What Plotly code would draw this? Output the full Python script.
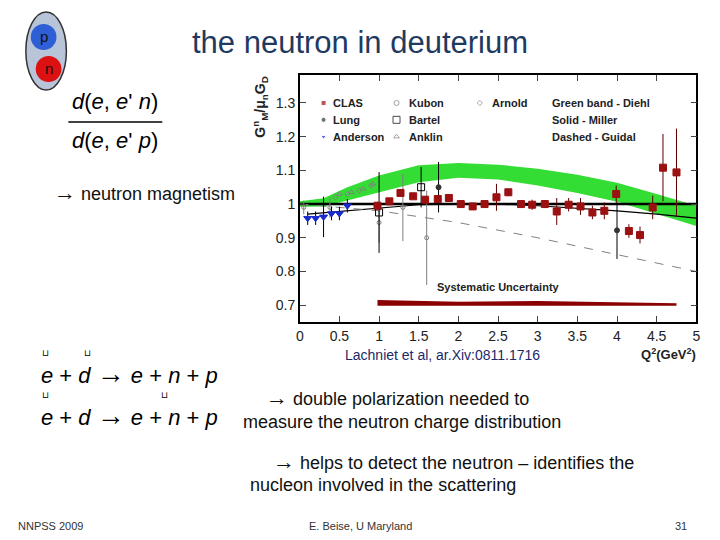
import plotly.graph_objects as go
import numpy as np

clas_q = [0.98,1.13,1.27,1.43,1.58,1.74,1.88,2.03,2.18,2.33,2.48,2.63,2.79,2.93,3.09,3.24,3.39,3.54,3.69,3.84,3.99,4.15,4.29,4.45,4.58,4.75]
clas_g = [0.995,1.008,1.033,1.023,1.013,1.015,1.018,1.0,0.993,1.0,1.02,1.035,1.0,0.998,1.0,0.978,0.998,0.993,0.975,0.98,1.03,0.92,0.908,0.99,1.108,1.094]
clas_e = [0.012,0.008,0.01,0.008,0.01,0.012,0.008,0.006,0.008,0.008,0.04,0.01,0.01,0.015,0.012,0.04,0.02,0.025,0.02,0.025,0.025,0.02,0.025,0.035,0.1,0.13]
and_q = [0.1,0.2,0.3,0.4,0.5,0.6]
and_g = [0.958,0.958,0.962,0.972,0.972,0.995]
and_e = [0.02,0.02,0.06,0.02,0.02,0.02]
lung_q = [1.75,4.0]
lung_g = [1.05,0.922]
lung_e = [0.075,0.085]
kubon_q = [0.05,0.38,1.0,1.3,1.6]
kubon_g = [0.99,0.99,0.945,0.99,0.9]
kubon_e = [0.02,0.03,0.06,0.1,0.14]
bartel_q = [1.0,1.53]
bartel_g = [0.975,1.05]
bartel_e = [0.12,0.06]
anklin_q = [0.5,0.65,0.8,0.92]
anklin_g = [1.03,1.035,1.045,1.06]
arnold_q = [0.45,0.6,0.75,0.9]
arnold_g = [1.02,1.03,1.04,1.055]

band_q = [0,0.3,0.6,1.0,1.5,2.0,2.5,3.0,3.5,4.0,4.5,5.0]
band_c = [1.0,1.005,1.03,1.06,1.09,1.1,1.095,1.08,1.06,1.035,1.0,0.965]
band_w = [0.008,0.012,0.02,0.025,0.025,0.022,0.022,0.025,0.027,0.028,0.03,0.03]
miller_q = [0.1,0.5,1.0,1.5,2.0,2.5,3.0,3.5,4.0,4.5,5.0]
miller_g = [0.97,0.978,0.99,0.998,1.0,1.0,0.995,0.988,0.98,0.97,0.958]
guidal_q = [0,1,2,3,4,5]
guidal_g = [1.0,0.98,0.945,0.9,0.85,0.8]
sys_q = [0.98,1.5,2.0,3.0,4.0,4.75]
sys_top = [0.715,0.713,0.71,0.712,0.708,0.706]

OFF = 8
def X(px): return (px - OFF) / 720
def Y(py): return 1 - (py - OFF) / 540

fig = go.Figure()
bq = np.array(band_q); bc = np.array(band_c); bw = np.array(band_w)
fig.add_trace(go.Scatter(x=list(bq)+list(bq[::-1]), y=list(bc+bw)+list((bc-bw)[::-1]),
                         fill='toself', fillcolor='#33dd33', line=dict(width=0), mode='lines'))
fig.add_trace(go.Scatter(x=sys_q+sys_q[::-1], y=sys_top+[0.698]*len(sys_q), fill='toself',
                         fillcolor='#8b0000', line=dict(width=0), mode='lines'))
fig.add_trace(go.Scatter(x=[0,5], y=[1,1], mode='lines', line=dict(color='black', width=2.5)))
fig.add_trace(go.Scatter(x=miller_q, y=miller_g, mode='lines', line=dict(color='black', width=1.2)))
fig.add_trace(go.Scatter(x=guidal_q, y=guidal_g, mode='lines', line=dict(color='gray', width=1, dash='dash')))
def pts(q,g,e,sym,col,size,lc='black'):
    fig.add_trace(go.Scatter(x=q,y=g,mode='markers',
        error_y=dict(type='data',array=e,color=lc,thickness=1,width=0) if e else None,
        marker=dict(symbol=sym,color=col,size=size,line=dict(color=lc if 'open' in sym else col,width=1))))
pts(kubon_q,kubon_g,kubon_e,'circle-open','gray',4,'gray')
pts(bartel_q,bartel_g,bartel_e,'square-open','black',7)
pts(anklin_q,anklin_g,None,'triangle-up-open','gray',5,'gray')
pts(arnold_q,arnold_g,None,'diamond-open','gray',4,'gray')
pts(lung_q,lung_g,lung_e,'circle','#333',5)
pts(and_q,and_g,and_e,'triangle-down','#1a2ad0',7)
pts(clas_q,clas_g,clas_e,'square','#9b1010',7,'#5a0000')
fig.add_trace(go.Scatter(x=[0.3,0.3,0.3,1.22,1.22,1.22,2.27],y=[1.3,1.25,1.2,1.3,1.25,1.2,1.3],mode='markers',
    marker=dict(symbol=['square','circle','triangle-down','circle-open','square-open','triangle-up-open','diamond-open'],
                color=['#9b1010','#333','#1a2ad0','gray','black','gray','gray'],size=[5,5,5,5,7,5,4])))

F = "Arial, Liberation Sans"
ax = dict(ticks='inside', ticklen=6, mirror='ticks', showline=True, linecolor='black', linewidth=1.5,
          showgrid=False, zeroline=False, tickfont=dict(size=14, color='#222'))
fig.update_layout(width=720, height=540, margin=dict(l=0,r=0,t=0,b=0), showlegend=False,
    paper_bgcolor='white', plot_bgcolor='white', font=dict(family=F),
    xaxis=dict(domain=[X(299),X(700)], range=[0,5], tickvals=[0,0.5,1,1.5,2,2.5,3,3.5,4,4.5,5],
               ticktext=['0','0.5','1','1.5','2','2.5','3','3.5','4','4.5','5'], **ax),
    yaxis=dict(domain=[Y(322),Y(75)], range=[0.65,1.383], tickvals=[0.7,0.8,0.9,1.0,1.1,1.2,1.3],
               ticktext=['0.7','0.8','0.9','1','1.1','1.2','1.3'], **ax))

def ann(px,py,t,s,col='black',xa='left',ya='middle',ang=0):
    fig.add_annotation(x=X(px),y=Y(py),xref='paper',yref='paper',text=t,showarrow=False,align='left',
        font=dict(size=s,color=col,family=F),xanchor=xa,yanchor=ya,textangle=ang)
for (xq,yv,t) in [(0.4,1.3,'CLAS'),(0.4,1.25,'Lung'),(0.4,1.2,'Anderson'),(1.35,1.3,'Kubon'),(1.35,1.25,'Bartel'),
                  (1.35,1.2,'Anklin'),(2.4,1.3,'Arnold'),(3.15,1.3,'Green band - Diehl'),(3.15,1.25,'Solid - Miller'),
                  (3.15,1.2,'Dashed - Guidal')]:
    fig.add_annotation(x=xq,y=yv,xref='x',yref='y',text='<b>'+t+'</b>',showarrow=False,xanchor='left',
                       font=dict(size=11,family=F,color='#222'))
fig.add_annotation(x=2.5,y=0.755,xref='x',yref='y',text='<b>Systematic Uncertainty</b>',showarrow=False,
                   font=dict(size=11,family=F,color='#222'))
ann(258,75,'<b>G<sup>n</sup><sub>M</sub>/μ<sub>n</sub>G<sub>D</sub></b>',14,'#222','center','top',ang=-90)
ann(702,354,'<b>Q<sup>2</sup>(GeV<sup>2</sup>)</b>',13,'#222','right','middle')
ann(343,355,'Lachniet et al, ar.Xiv:0811.1716',14,'#1a2a6a','left','middle')

ann(360,42,'the neutron in deuterium',31,'#1f3a60','center','middle')
fig.add_shape(type='circle',xref='paper',yref='paper',x0=X(22),x1=X(63),y0=Y(90),y1=Y(12),
              fillcolor='#b8c4d8',line=dict(color='#333',width=1.5))
fig.add_shape(type='circle',xref='paper',yref='paper',x0=X(27),x1=X(53),y0=Y(50),y1=Y(24),fillcolor='#2f5fd6',line=dict(width=0))
fig.add_shape(type='circle',xref='paper',yref='paper',x0=X(32),x1=X(58),y0=Y(82),y1=Y(56),fillcolor='#d11',line=dict(width=0))
ann(40,37,'p',15,'#111','center'); ann(45,69,'n',15,'#111','center')
ann(112,102,"<i>d</i>(<i>e</i>, <i>e</i>' <i>n</i>)",22,'black','center')
ann(112,140,"<i>d</i>(<i>e</i>, <i>e</i>' <i>p</i>)",22,'black','center')
fig.add_shape(type='line',xref='paper',yref='paper',x0=X(65),x1=X(160),y0=Y(122),y1=Y(122),line=dict(color='black',width=1.5))
ann(48,192,'<span style="font-size:22px">→</span> neutron magnetism',18,'#111')
ann(35,373,'<i>e</i> + <i>d</i> <span style="font-size:28px">→</span> <i>e</i> + <i>n</i> + <i>p</i>',22,'black')
ann(35,415,'<i>e</i> + <i>d</i> <span style="font-size:28px">→</span> <i>e</i> + <i>n</i> + <i>p</i>',22,'black')
for x in [42,84]:
    ann(x,353,'⊔',9,'black','center')
for x in [42,162]:
    ann(x,395,'⊔',9,'black','center')
ann(263,397,'<span style="font-size:22px">→</span> double polarization needed to',18,'#111')
ann(240,422,'measure the neutron charge distribution',18,'#111')
ann(270,461,'<span style="font-size:22px">→</span> helps to detect the neutron – identifies the',18,'#111')
ann(247,485,'nucleon involved in the scattering',18,'#111')
ann(12,526,'NNPSS 2009',11,'#333')
ann(360,526,'E. Beise, U Maryland',11,'#333','center')
ann(693,526,'31',11,'#333','right')
fig.write_html("out.html")
